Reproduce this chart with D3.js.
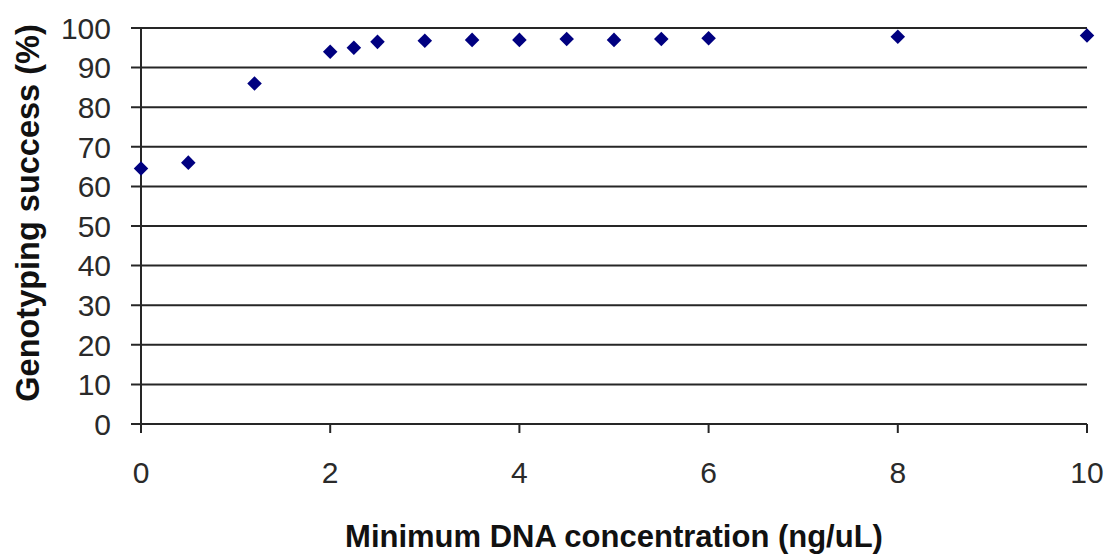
<!DOCTYPE html>
<html>
<head>
<meta charset="utf-8">
<script src="https://cdn.jsdelivr.net/npm/d3@7"></script>
<style>
  html, body { margin: 0; padding: 0; background: #fff; }
  svg { display: block; }
  text { font-family: "Liberation Sans", Arial, sans-serif; }
</style>
</head>
<body>
<svg id="chart" width="1109" height="557"></svg>
<script>
// Data
const concentration = [0, 0.5, 1.2, 2, 2.25, 2.5, 3, 3.5, 4, 4.5, 5, 5.5, 6, 8, 10];
const success = [64.5, 66, 86, 94, 95, 96.5, 96.8, 97, 97, 97.2, 97, 97.2, 97.4, 97.8, 98.1];
const xTicks = [0, 2, 4, 6, 8, 10];
const yTicks = [0, 10, 20, 30, 40, 50, 60, 70, 80, 90, 100];
const xTitle = "Minimum DNA concentration (ng/uL)";
const yTitle = "Genotyping success (%)";

(function () {
const svg = d3.select("#chart");
const mLeft = 141, mRight = 1087, mTop = 28, mBottom = 424;

const x = d3.scaleLinear().domain([0, 10]).range([mLeft, mRight]);
const y = d3.scaleLinear().domain([0, 100]).range([mBottom, mTop]);

const lineColor = "#262626";

// Horizontal gridlines + y-axis ticks (extend left beyond axis)
svg.append("g").selectAll("line").data(yTicks).join("line")
  .attr("x1", mLeft - 10).attr("x2", mRight)
  .attr("y1", d => y(d)).attr("y2", d => y(d))
  .attr("stroke", lineColor).attr("stroke-width", 2);

// Y axis vertical line
svg.append("line")
  .attr("x1", mLeft).attr("x2", mLeft)
  .attr("y1", y(100)).attr("y2", y(0) + 9)
  .attr("stroke", lineColor).attr("stroke-width", 2);

// X tick marks
svg.append("g").selectAll("line").data(xTicks).join("line")
  .attr("x1", d => x(d)).attr("x2", d => x(d))
  .attr("y1", y(0)).attr("y2", y(0) + 9)
  .attr("stroke", lineColor).attr("stroke-width", 2);

// Y tick labels
svg.append("g").selectAll("text").data(yTicks).join("text")
  .attr("x", mLeft - 30).attr("y", d => y(d))
  .attr("dy", "0.36em")
  .attr("text-anchor", "end")
  .attr("font-size", 30)
  .attr("fill", "#2a2a2a")
  .text(d => d);

// X tick labels
svg.append("g").selectAll("text").data(xTicks).join("text")
  .attr("x", d => x(d)).attr("y", 483)
  .attr("text-anchor", "middle")
  .attr("font-size", 30)
  .attr("fill", "#2a2a2a")
  .text(d => d);

// Axis titles
svg.append("text")
  .attr("x", (mLeft + mRight) / 2).attr("y", 547)
  .attr("text-anchor", "middle")
  .attr("font-size", 31).attr("font-weight", "bold")
  .attr("fill", "#111")
  .text(xTitle);

svg.append("text")
  .attr("transform", `translate(39, 213) rotate(-90)`)
  .attr("text-anchor", "middle")
  .attr("font-size", 32.5).attr("font-weight", "bold")
  .attr("fill", "#111")
  .text(yTitle);

// Diamond markers
const diamond = d3.symbol().type(d3.symbolDiamond2).size(135);
svg.append("g").selectAll("path").data(concentration.map((c, i) => [c, success[i]])).join("path")
  .attr("d", diamond)
  .attr("transform", d => `translate(${x(d[0])}, ${y(d[1])})`)
  .attr("fill", "#000080");
})();
</script>
</body>
</html>
